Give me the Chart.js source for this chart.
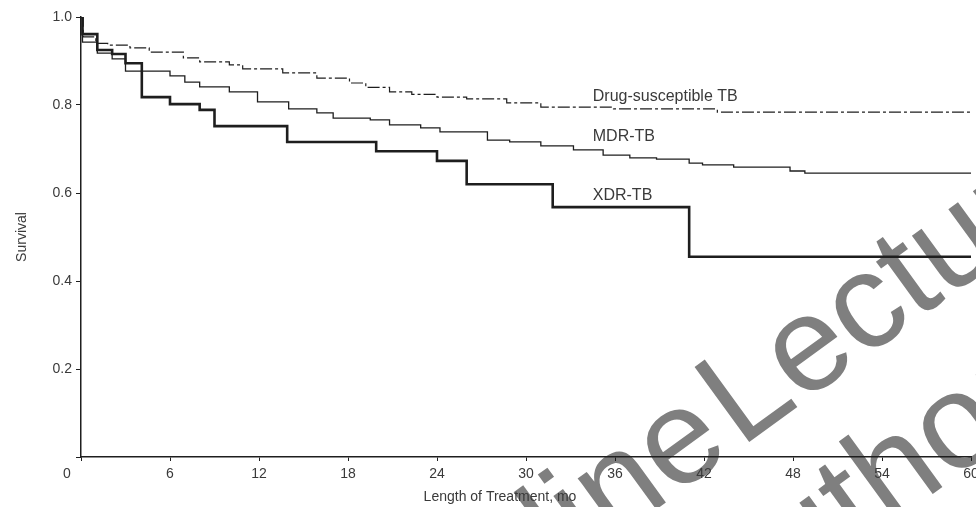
<!DOCTYPE html>
<html>
<head>
<meta charset="utf-8">
<script src="https://cdn.jsdelivr.net/npm/chart.js@4/dist/chart.umd.min.js"></script>
<style>
  html, body { margin: 0; padding: 0; background: #fff; }
  #wrap { width: 976px; height: 507px; position: relative; }
</style>
</head>
<body>
<div id="wrap"><canvas id="km"></canvas></div>
<script>
// Kaplan-Meier survival by length of treatment (months)
const xdrMonths   = [0, 0.1, 1.1, 2.1, 3.0, 4.1, 6.0, 8.0, 9.0, 13.9, 19.9, 24.0, 26.0, 31.8, 41.0, 60];
const xdrSurvival = [1.0, 0.961, 0.925, 0.916, 0.895, 0.818, 0.802, 0.789, 0.752, 0.716, 0.695, 0.673, 0.620, 0.568, 0.455, 0.455];

const mdrMonths   = [0, 0.1, 1.1, 2.1, 3.0, 6.0, 7.0, 8.0, 10.0, 11.9, 14.0, 15.9, 17.0, 19.5, 20.8, 22.9, 24.2, 27.4, 28.9, 31.0, 33.2, 35.2, 37.0, 38.8, 41.0, 41.9, 44.0, 47.8, 48.8, 60];
const mdrSurvival = [1.0, 0.943, 0.918, 0.905, 0.877, 0.866, 0.852, 0.841, 0.830, 0.807, 0.791, 0.782, 0.770, 0.766, 0.755, 0.748, 0.739, 0.720, 0.716, 0.707, 0.698, 0.686, 0.680, 0.677, 0.668, 0.664, 0.659, 0.650, 0.645, 0.645];

const dsMonths    = [0, 0.15, 1.0, 1.8, 3.3, 4.6, 6.9, 8.0, 10.0, 10.9, 13.6, 15.9, 18.1, 19.2, 20.8, 22.3, 24.0, 26.0, 28.7, 31.0, 35.9, 42.9, 60];
const dsSurvival  = [1.0, 0.955, 0.94, 0.936, 0.93, 0.92, 0.907, 0.898, 0.891, 0.882, 0.873, 0.861, 0.850, 0.840, 0.830, 0.824, 0.818, 0.814, 0.805, 0.795, 0.791, 0.784, 0.784];

const xTickStep = 6;
const yTickStep = 0.2;
const seriesNames = ['Drug-susceptible TB', 'MDR-TB', 'XDR-TB'];
const xAxisTitle = 'Length of Treatment, mo';
const yAxisTitle = 'Survival';

const toPoints = (xs, ys) => xs.map((x, i) => ({ x: x, y: ys[i] }));

const INK = '#1e1e1e';
const TEXT = '#3a3a3a';
const FONT = 'Liberation Sans, Arial, Helvetica, sans-serif';

// Grey diagonal background lettering, then curve names, shared origin "0" and x title
const textPlugin = {
  id: 'kmText',
  beforeDraw(chart) {
    const ctx = chart.ctx;
    ctx.save();
    ctx.fillStyle = '#7f7f7f';
    ctx.font = '135px ' + FONT;
    ctx.textBaseline = 'alphabetic';
    ctx.textAlign = 'left';
    ctx.translate(394, 700);
    ctx.rotate(-36 * Math.PI / 180);
    const lStart = 428;
    const w1 = ctx.measureText('Online').width;
    ctx.fillText('Online', lStart - 8 - w1, 0);
    ctx.fillText('Lecture', lStart, 0);
    ctx.fillText('Author', 300, 150);
    ctx.restore();
  },
  afterDraw(chart) {
    const ctx = chart.ctx;
    const xs = chart.scales.x, ys = chart.scales.y;
    ctx.save();
    ctx.fillStyle = TEXT;
    ctx.textBaseline = 'middle';
    ctx.textAlign = 'left';
    ctx.font = '16px ' + FONT;
    const lx = xs.getPixelForValue(34.5);
    ctx.fillText(seriesNames[0], lx, ys.getPixelForValue(0.82));
    ctx.fillText(seriesNames[1], lx, ys.getPixelForValue(0.728));
    ctx.fillText(seriesNames[2], lx, ys.getPixelForValue(0.595));
    ctx.font = '14px ' + FONT;
    ctx.textAlign = 'center';
    ctx.fillText('0', xs.getPixelForValue(0) - 14, 474);
    ctx.fillText(xAxisTitle, (chart.chartArea.left + chart.chartArea.right) / 2 - 26, 497);
    ctx.restore();
  }
};

new Chart(document.getElementById('km'), {
  type: 'line',
  data: {
    datasets: [
      {
        label: seriesNames[0],
        data: toPoints(dsMonths, dsSurvival),
        stepped: 'before',
        borderColor: INK,
        borderWidth: 1.2,
        borderDash: [12, 3, 3, 3],
        pointRadius: 0,
        fill: false
      },
      {
        label: seriesNames[1],
        data: toPoints(mdrMonths, mdrSurvival),
        stepped: 'before',
        borderColor: INK,
        borderWidth: 1.3,
        pointRadius: 0,
        fill: false
      },
      {
        label: seriesNames[2],
        data: toPoints(xdrMonths, xdrSurvival),
        stepped: 'before',
        borderColor: INK,
        borderWidth: 2.6,
        pointRadius: 0,
        fill: false
      }
    ]
  },
  options: {
    responsive: true,
    maintainAspectRatio: false,
    animation: false,
    devicePixelRatio: 1,
    layout: { padding: { top: 17, right: 5, left: 0, bottom: 0 } },
    plugins: { legend: { display: false }, tooltip: { enabled: false } },
    scales: {
      x: {
        type: 'linear',
        min: 0,
        max: 60,
        ticks: {
          stepSize: xTickStep,
          color: TEXT,
          font: { family: FONT, size: 14 },
          padding: 5,
          maxRotation: 0,
          callback: v => (v === 0 ? '' : String(v))
        },
        grid: { display: true, drawOnChartArea: false, drawTicks: true, tickLength: 4, color: INK, lineWidth: 1 },
        border: { display: true, color: INK, width: 1.5 },
        afterFit(scale) { scale.height = 50; scale.paddingLeft = 0; scale.paddingRight = 0; }
      },
      y: {
        min: 0,
        max: 1,
        ticks: {
          stepSize: yTickStep,
          color: TEXT,
          font: { family: FONT, size: 14 },
          padding: 4,
          callback: v => (Math.abs(v) < 1e-9 ? '' : v.toFixed(1))
        },
        grid: { display: true, drawOnChartArea: false, drawTicks: true, tickLength: 5, color: INK, lineWidth: 1 },
        border: { display: true, color: INK, width: 1.5 },
        title: { display: true, text: yAxisTitle, color: TEXT, font: { family: FONT, size: 14 }, padding: { top: 14 } },
        afterFit(scale) { scale.width = 81; scale.paddingTop = 0; scale.paddingBottom = 0; }
      }
    }
  },
  plugins: [textPlugin]
});
</script>
</body>
</html>
